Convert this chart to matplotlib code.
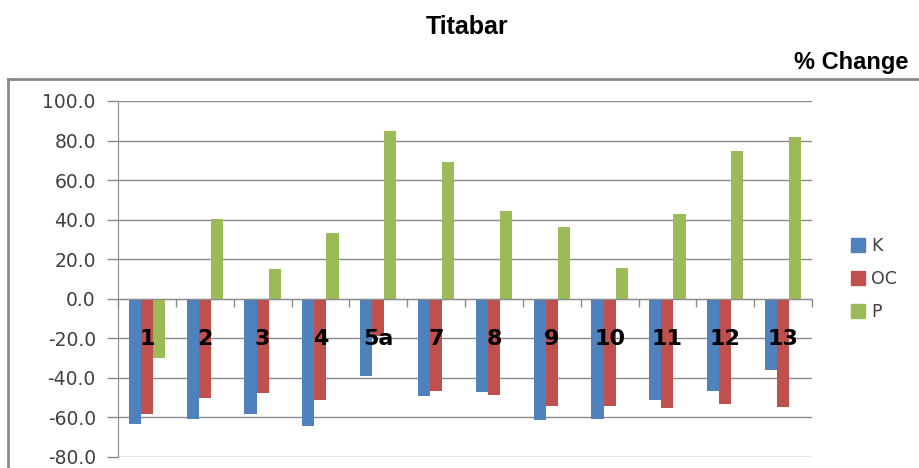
import numpy as np
import matplotlib
matplotlib.use('Agg')
import matplotlib.pyplot as plt
from matplotlib.lines import Line2D

# --- Data: % change by site ---
sites = ['1', '2', '3', '4', '5a', '7', '8', '9', '10', '11', '12', '13']
k_change = [-63.6, -60.9, -58.5, -64.4, -39.0, -49.2, -47.4, -61.4, -60.9, -51.4, -46.7, -36.3]
oc_change = [-58.2, -50.1, -47.9, -51.1, -18.8, -46.7, -48.7, -54.3, -54.3, -55.6, -53.3, -54.6]
p_change = [-30.0, 40.1, 15.2, 33.2, 84.7, 69.3, 44.4, 36.4, 15.7, 43.0, 74.7, 81.8]

series = [('K', k_change, '#4F81BD'),
          ('OC', oc_change, '#C0504D'),
          ('P', p_change, '#9BBB59')]

head_font = ['Liberation Sans', 'DejaVu Sans']
axis_grey = '#8a8a8a'

fig = plt.figure(figsize=(9.19, 4.68), dpi=100)
ax = fig.add_axes([118 / 919, 11.3 / 468, 694 / 919, 355.7 / 468])

x = np.arange(len(sites))
width = 0.21
for i, (name, vals, col) in enumerate(series):
    ax.bar(x + (i - 1) * width, vals, width, color=col, label=name, zorder=3)

ax.set_xlim(-0.5, len(sites) - 0.5)
ax.set_ylim(-80, 100)
ax.set_yticks(np.arange(-80, 101, 20))
ax.set_yticklabels([f'{v:.1f}' for v in np.arange(-80, 101, 20)],
                   fontsize=13.5, color='#404040')
ax.yaxis.grid(True, color=axis_grey, linewidth=1, zorder=0)
ax.tick_params(axis='y', length=8, color=axis_grey, width=1, pad=8)

# category axis sits at zero with ticks between groups
ax.spines['bottom'].set_position(('data', 0))
ax.spines['bottom'].set_color(axis_grey)
ax.spines['bottom'].set_zorder(4)
ax.set_xticks(np.arange(len(sites) + 1) - 0.5)
ax.set_xticklabels([])
ax.tick_params(axis='x', length=6, color=axis_grey, width=1, direction='out')
for s in ['top', 'right']:
    ax.spines[s].set_visible(False)
ax.spines['left'].set_color(axis_grey)

for xi, lab in zip(x, sites):
    ax.text(xi, -20.5, lab, ha='center', va='center', fontsize=16,
            fontweight='bold', color='black', zorder=5)

# legend on the right
handles = [Line2D([], [], marker='s', linestyle='', markersize=10,
                  markerfacecolor=c, markeredgecolor=c) for _, _, c in series]
leg = fig.legend(handles, [n for n, _, _ in series], loc='center left',
                 bbox_to_anchor=(835 / 919, 1 - 279 / 468), frameon=False,
                 fontsize=12.5, handlelength=0.8, handletextpad=0.4,
                 labelspacing=0.85)
for t in leg.get_texts():
    t.set_color('#404040')

# outer chart frame
fig.add_artist(Line2D([8 / 919, 1], [1 - 79 / 468, 1 - 79 / 468],
                      color=axis_grey, linewidth=2))
fig.add_artist(Line2D([8 / 919, 8 / 919], [0, 1 - 79 / 468],
                      color=axis_grey, linewidth=2))

fig.text(467 / 919, 1 - 27 / 468, 'Titabar', ha='center', va='center',
         fontsize=18, fontweight='bold', family=head_font)
fig.text(908 / 919, 1 - 63 / 468, '% Change', ha='right', va='center',
         fontsize=17, fontweight='bold', family=head_font)

fig.savefig('out.png', dpi=100)
